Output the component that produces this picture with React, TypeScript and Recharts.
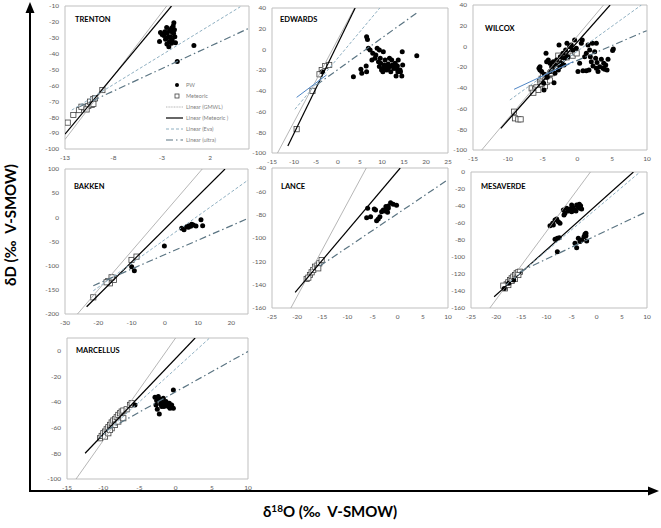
import React from 'react'
import { ScatterChart, Scatter, XAxis, YAxis, ReferenceArea, Legend } from 'recharts'

type Pt = { x: number; y: number }

// ---- TRENTON ----
const trentonPw: Pt[] = [
  { x: -3.14, y: -26.6 }, { x: -2.97, y: -28.0 }, { x: -2.69, y: -26.2 }, { x: -2.45, y: -27.2 },
  { x: -2.21, y: -25.5 }, { x: -2.0, y: -24.0 }, { x: -1.93, y: -26.4 }, { x: -1.76, y: -20.5 },
  { x: -1.83, y: -22.6 }, { x: -2.1, y: -29.3 }, { x: -2.35, y: -29.7 }, { x: -2.62, y: -31.0 },
  { x: -1.93, y: -31.4 }, { x: -1.66, y: -29.3 }, { x: -2.0, y: -33.5 }, { x: -2.28, y: -35.6 },
  { x: -2.48, y: -33.9 }, { x: -1.59, y: -33.1 }, { x: -2.21, y: -32.4 }, { x: -1.79, y: -27.2 },
  { x: -3.24, y: -32.4 }, { x: 0.31, y: -34.9 }, { x: -1.41, y: -45.0 }, { x: -2.5, y: -23.5 },
  { x: -2.8, y: -28.5 }, { x: -1.7, y: -25.0 },
]
const trentonMet: Pt[] = [
  { x: -12.72, y: -83.4 }, { x: -12.14, y: -78.6 }, { x: -11.56, y: -75.5 }, { x: -11.04, y: -73.8 },
  { x: -10.59, y: -72.9 }, { x: -10.41, y: -70.2 }, { x: -10.24, y: -72.3 }, { x: -10.07, y: -68.5 },
  { x: -9.9, y: -68.1 }, { x: -10.07, y: -71.6 }, { x: -9.14, y: -62.9 }, { x: -11.3, y: -73.4 },
  { x: -10.77, y: -75.1 },
]
const trentonGmwl: Pt[] = [{ x: -13, y: -94 }, { x: -2.5, y: -10 }]
const trentonMetLine: Pt[] = [{ x: -13, y: -90.6 }, { x: -2, y: -10 }]
const trentonEva: Pt[] = [{ x: -12.3, y: -75.5 }, { x: 5.1, y: -10.5 }]
const trentonUltra: Pt[] = [{ x: -11.5, y: -73.4 }, { x: 6, y: -24 }]

// ---- EDWARDS ----
const edwardsPw: Pt[] = [
  { x: 3.5, y: -26.3 }, { x: 5.2, y: -19.2 }, { x: 5.4, y: -23.1 }, { x: 6.4, y: -16 }, { x: 6.5, y: -21.5 },
  { x: 6.5, y: 12.3 }, { x: 6.7, y: 9.7 }, { x: 6.9, y: 1.1 }, { x: 7.3, y: -0.5 }, { x: 7.9, y: -3.8 },
  { x: 8.4, y: -8.6 }, { x: 8.6, y: -5.4 }, { x: 8.9, y: 1.1 }, { x: 9.4, y: -0.5 }, { x: 9.2, y: -11.8 },
  { x: 9.4, y: -16.6 }, { x: 9.7, y: -13.4 }, { x: 9.9, y: -19.9 }, { x: 10.2, y: -18.3 }, { x: 10.3, y: -2.2 },
  { x: 10.5, y: -15 }, { x: 10.7, y: -10.2 }, { x: 10.9, y: -16.6 }, { x: 11.1, y: -19.9 }, { x: 11.4, y: -14.1 },
  { x: 11.7, y: -8.6 }, { x: 11.8, y: -16.6 }, { x: 12, y: -21.5 }, { x: 12.2, y: -10.2 }, { x: 12.4, y: -15 },
  { x: 12.7, y: -18.3 }, { x: 13, y: -13.4 }, { x: 13.2, y: -25.7 }, { x: 13.3, y: -18.3 }, { x: 13.5, y: -16 },
  { x: 13.7, y: -10.2 }, { x: 13.9, y: -20.5 }, { x: 14.1, y: -19.9 }, { x: 14.2, y: -21.5 }, { x: 14.5, y: -25.7 },
  { x: 14.6, y: -2.2 }, { x: 14.7, y: -15 }, { x: 17.9, y: -6 }, { x: 10.2, y: -21.5 }, { x: 7.7, y: -10.2 },
  { x: 9.6, y: -8.6 }, { x: 11.4, y: -18.3 }, { x: 12.7, y: -16 }, { x: 13.6, y: -21.5 }, { x: -3.6, y: -21.5 },
]
const edwardsMet: Pt[] = [
  { x: -9.4, y: -77 }, { x: -5.8, y: -40 }, { x: -3.7, y: -20 }, { x: -2.9, y: -16 }, { x: -2, y: -15 },
  { x: -4.2, y: -24 },
]
const edwardsGmwl: Pt[] = [{ x: -13.75, y: -100 }, { x: 3.75, y: 40 }]
const edwardsMetLine: Pt[] = [{ x: -11.4, y: -93.2 }, { x: 3.9, y: 40 }]
const edwardsEva: Pt[] = [{ x: -9.8, y: -57.8 }, { x: 9.5, y: 40 }]
const edwardsUltra: Pt[] = [{ x: -4.9, y: -34.3 }, { x: 18.3, y: 36.5 }]
const edwardsBlue: Pt[] = [{ x: -9.4, y: -46.3 }, { x: -2.6, y: -24.7 }]

// ---- WILCOX ----
const wilcoxPw: Pt[] = [
  { x: -4.51, y: -6.7 }, { x: -5.52, y: -21.1 }, { x: -5.38, y: -22.7 }, { x: -4.8, y: -42 }, { x: -4.42, y: -14.7 },
  { x: -4.18, y: -13.1 }, { x: -3.94, y: -16.3 }, { x: -3.7, y: -19.5 }, { x: -3.46, y: -14.7 }, { x: -3.22, y: -17.9 },
  { x: -2.98, y: -13.1 }, { x: -2.74, y: -22.7 }, { x: -3.36, y: -35 }, { x: -2.64, y: 1.4 }, { x: -2.45, y: -9.9 },
  { x: -2.07, y: -6.7 }, { x: -1.83, y: -11.5 }, { x: -1.5, y: 3 }, { x: -1.12, y: -0.2 }, { x: -0.88, y: 1.4 },
  { x: -0.64, y: -3.5 }, { x: -0.4, y: 6.2 }, { x: -0.16, y: -1.8 }, { x: 0.08, y: -24.3 }, { x: 0.32, y: -16.3 },
  { x: 0.56, y: 3 }, { x: 0.8, y: -23.4 }, { x: 0.7, y: 6.2 }, { x: 1.04, y: -9.9 }, { x: 1.28, y: -23.4 },
  { x: 1.52, y: 1.4 }, { x: 1.66, y: -22.7 }, { x: 1.76, y: -3.5 }, { x: 1.86, y: -9.9 }, { x: 2.0, y: -14.7 },
  { x: 2.15, y: 3 }, { x: 2.24, y: -18.9 }, { x: 2.48, y: -5.1 }, { x: 2.62, y: -11.5 }, { x: 2.72, y: -21.1 },
  { x: 2.82, y: -15.6 }, { x: 2.96, y: -24.3 }, { x: 3.2, y: -19.5 }, { x: 3.44, y: -12.4 }, { x: 3.68, y: -21.1 },
  { x: 3.78, y: -16.3 }, { x: 3.92, y: -22 }, { x: 4.07, y: -17.9 }, { x: 4.26, y: -22.7 }, { x: 2.72, y: 3 },
  { x: 5.16, y: -2.5 }, { x: 5.06, y: -4 }, { x: 4.4, y: -12.4 }, { x: 1.28, y: -6.7 }, { x: -5.38, y: -19.5 },
  { x: -5.14, y: -24.3 }, { x: -4.75, y: -26.8 }, { x: -4.32, y: -29.7 }, { x: -3.94, y: -24.3 }, { x: -3.22, y: -25.9 },
  { x: -2.5, y: -19.5 }, { x: -2.26, y: -16.3 }, { x: -1.92, y: -17.9 }, { x: -1.36, y: -9.9 }, { x: -4.85, y: -35.6 },
  { x: -1.69, y: -3.5 },
]
const wilcoxMet: Pt[] = [
  { x: -9.11, y: -63 }, { x: -8.97, y: -69.4 }, { x: -8.49, y: -70.4 }, { x: -8.16, y: -70.4 }, { x: -6.57, y: -40.5 },
  { x: -6.09, y: -41.4 }, { x: -5.86, y: -39.5 }, { x: -5.62, y: -42 }, { x: -6.33, y: -44.7 }, { x: -5.38, y: -34.4 },
  { x: -5.14, y: -31.2 }, { x: -4.9, y: -29 }, { x: -4.66, y: -32.8 }, { x: -4.42, y: -28.1 }, { x: -4.18, y: -29.7 },
  { x: -3.94, y: -26.5 }, { x: -3.7, y: -25.9 }, { x: -3.46, y: -23.4 }, { x: -3.22, y: -21.7 }, { x: -2.98, y: -19.5 },
  { x: -2.74, y: -17 }, { x: -2.5, y: -13.8 }, { x: -2.26, y: -12.2 }, { x: -2.02, y: -9.9 }, { x: -1.78, y: -8.9 },
  { x: -1.55, y: -10.5 }, { x: -0.97, y: -7.4 }, { x: -0.69, y: -8.9 }, { x: -0.35, y: -5.7 }, { x: -0.11, y: -6.7 },
  { x: -2.74, y: -8.9 }, { x: -4.66, y: -38.4 }, { x: -4.42, y: -34.4 }, { x: -3.94, y: -32.8 }, { x: -5.14, y: -36 },
]
const wilcoxGmwl: Pt[] = [{ x: -13.75, y: -100 }, { x: 3.75, y: 40 }]
const wilcoxMetLine: Pt[] = [{ x: -11, y: -79.1 }, { x: 4.7, y: 40 }]
const wilcoxEva: Pt[] = [{ x: -9.7, y: -51.7 }, { x: 9.2, y: 40 }]
const wilcoxUltra: Pt[] = [{ x: -4, y: -25 }, { x: 9.95, y: 15.2 }]
const wilcoxBlue: Pt[] = [{ x: -9.1, y: -41.4 }, { x: -0.6, y: -14.7 }]

// ---- BAKKEN ----
const bakkenPw: Pt[] = [
  { x: -0.14, y: -59.3 }, { x: -9.96, y: -102 }, { x: -9.16, y: -110.4 }, { x: 5.07, y: -22.8 }, { x: 5.77, y: -25.5 },
  { x: 6.57, y: -19.3 }, { x: 7.27, y: -17.2 }, { x: 7.77, y: -18.6 }, { x: 8.07, y: -14.5 }, { x: 8.57, y: -15.9 },
  { x: 9.37, y: -17.9 }, { x: 10.87, y: -4.8 }, { x: 11.37, y: -17.2 }, { x: 7.07, y: -20.7 },
]
const bakkenMet: Pt[] = [
  { x: -21.5, y: -165.5 }, { x: -17, y: -131.7 }, { x: -16.5, y: -136.5 }, { x: -15.7, y: -126.2 },
  { x: -15.3, y: -129.6 }, { x: -16, y: -124.1 }, { x: -10, y: -88.2 }, { x: -8.5, y: -81.3 }, { x: -17.5, y: -134.4 },
]
const bakkenGmwl: Pt[] = [{ x: -26.25, y: -200 }, { x: 11.25, y: 100 }]
const bakkenMetLine: Pt[] = [{ x: -23.5, y: -184.9 }, { x: 18.1, y: 100 }]
const bakkenEva: Pt[] = [{ x: -21.5, y: -152 }, { x: 25, y: 77 }]
const bakkenUltra: Pt[] = [{ x: -21.5, y: -141.4 }, { x: 24.6, y: -3.5 }]

// ---- LANCE ----
const lancePw: Pt[] = [
  { x: -5.98, y: -74.6 }, { x: -6.18, y: -82.6 }, { x: -5.39, y: -81.7 }, { x: -4.66, y: -75.1 }, { x: -4.4, y: -76 },
  { x: -3.87, y: -83.7 }, { x: -3.54, y: -81.7 }, { x: -3.21, y: -77.4 }, { x: -2.88, y: -76 }, { x: -2.55, y: -76.9 },
  { x: -2.21, y: -75.1 }, { x: -2.02, y: -78 }, { x: -1.88, y: -72.6 }, { x: -1.42, y: -69.8 }, { x: -0.89, y: -71.1 },
  { x: -0.23, y: -72 }, { x: -4.2, y: -85.3 }, { x: -1.88, y: -74.6 }, { x: -2.35, y: -73.1 },
]
const lanceMet: Pt[] = [
  { x: -18.11, y: -135.1 }, { x: -17.45, y: -131.7 }, { x: -17.12, y: -129.4 }, { x: -16.79, y: -127.4 },
  { x: -16.45, y: -124.6 }, { x: -15.99, y: -123.7 }, { x: -15.6, y: -121.7 }, { x: -15.13, y: -118.9 },
  { x: -17.78, y: -134 }, { x: -15.8, y: -126 },
]
const lanceGmwl: Pt[] = [{ x: -21.25, y: -160 }, { x: -6.25, y: -40 }]
const lanceMetLine: Pt[] = [{ x: -20.4, y: -146.6 }, { x: 0.5, y: -40 }]
const lanceUltra: Pt[] = [{ x: -15.5, y: -124 }, { x: 10, y: -50 }]

// ---- MESAVERDE ----
const mesaverdePw: Pt[] = [
  { x: -9.29, y: -63.1 }, { x: -8.76, y: -60.4 }, { x: -8.29, y: -56.5 }, { x: -7.96, y: -55.3 }, { x: -7.63, y: -58.4 },
  { x: -7.3, y: -60.4 }, { x: -8.63, y: -62.4 }, { x: -8.29, y: -79.2 }, { x: -7.83, y: -78 }, { x: -7.43, y: -77.3 },
  { x: -7.83, y: -93.7 }, { x: -6.64, y: -44.7 }, { x: -6.31, y: -48.6 }, { x: -5.98, y: -42.7 }, { x: -5.65, y: -45.9 },
  { x: -5.31, y: -43.5 }, { x: -4.98, y: -46.7 }, { x: -4.65, y: -42 }, { x: -4.32, y: -44.7 }, { x: -3.99, y: -38.8 },
  { x: -3.66, y: -40.8 }, { x: -3.46, y: -38 }, { x: -3.33, y: -42.7 }, { x: -3.2, y: -39.6 }, { x: -3.0, y: -43.5 },
  { x: -4.12, y: -45.9 }, { x: -4.98, y: -38.8 }, { x: -6.51, y: -50.6 }, { x: -4.32, y: -83.9 }, { x: -3.99, y: -89 },
  { x: -3.66, y: -78 }, { x: -3.33, y: -81.9 }, { x: -3.0, y: -80 }, { x: -2.53, y: -76.1 }, { x: -2.34, y: -73.3 },
  { x: -2.14, y: -74.9 }, { x: -2.0, y: -81.2 }, { x: -2.14, y: -72.2 }, { x: -18.4, y: -137 }, { x: -17.5, y: -131 },
  { x: -16.5, y: -127 },
]
const mesaverdeMet: Pt[] = [
  { x: -18.24, y: -134.9 }, { x: -17.91, y: -132.2 }, { x: -17.58, y: -129.8 }, { x: -17.24, y: -127.1 },
  { x: -16.91, y: -125.1 }, { x: -16.58, y: -123.1 }, { x: -16.25, y: -121.2 }, { x: -15.92, y: -119.2 },
  { x: -15.59, y: -118 }, { x: -15.26, y: -117.3 }, { x: -18.24, y: -136.9 }, { x: -17.58, y: -133 },
  { x: -16.91, y: -128.2 }, { x: -16.25, y: -125.9 }, { x: -15.59, y: -121.2 }, { x: -18.57, y: -133.7 },
]
const mesaverdeGmwl: Pt[] = [{ x: -21.25, y: -160 }, { x: -1.25, y: 0 }]
const mesaverdeMetLine: Pt[] = [{ x: -20.4, y: -146.7 }, { x: 7.3, y: 0 }]
const mesaverdeEva: Pt[] = [{ x: -18, y: -133 }, { x: 8.6, y: 0 }]
const mesaverdeUltra: Pt[] = [{ x: -15.3, y: -117.3 }, { x: 9.9, y: -46.7 }]

// ---- MARCELLUS ----
const marcellusPw: Pt[] = [
  { x: -0.31, y: -30.5 }, { x: -2.85, y: -36.2 }, { x: -2.62, y: -38.8 }, { x: -2.39, y: -35.7 }, { x: -2.16, y: -37.8 },
  { x: -1.93, y: -39.6 }, { x: -1.7, y: -37 }, { x: -1.47, y: -40.9 }, { x: -1.24, y: -42.2 }, { x: -1.01, y: -43.5 },
  { x: -0.78, y: -44.8 }, { x: -0.54, y: -42.2 }, { x: -0.31, y: -44.8 }, { x: -2.53, y: -45.6 }, { x: -2.25, y: -49.2 },
  { x: -1.93, y: -43.5 }, { x: -1.61, y: -43.5 }, { x: -1.33, y: -39.6 }, { x: -2.07, y: -41.4 }, { x: -2.71, y: -42.2 },
  { x: -0.87, y: -40.9 }, { x: -5.61, y: -42.2 },
]
const marcellusMet: Pt[] = [
  { x: -10.44, y: -68.2 }, { x: -10.21, y: -66.4 }, { x: -9.98, y: -64.3 }, { x: -9.75, y: -63 }, { x: -9.52, y: -61.2 },
  { x: -9.29, y: -59.6 }, { x: -9.06, y: -57.8 }, { x: -8.83, y: -55.9 }, { x: -8.6, y: -54.4 }, { x: -8.37, y: -53.4 },
  { x: -8.14, y: -51.8 }, { x: -7.91, y: -50 }, { x: -7.68, y: -48.7 }, { x: -7.45, y: -47.4 }, { x: -7.22, y: -46.6 },
  { x: -6.76, y: -45.6 }, { x: -6.3, y: -42.2 }, { x: -6.07, y: -40.9 }, { x: -9.75, y: -66.9 }, { x: -9.29, y: -64.3 },
  { x: -8.83, y: -60.4 }, { x: -8.37, y: -57.8 }, { x: -7.91, y: -55.2 }, { x: -7.22, y: -52.6 }, { x: -9.06, y: -61.7 },
]
const marcellusGmwl: Pt[] = [{ x: -13.75, y: -100 }, { x: 0, y: 10 }]
const marcellusMetLine: Pt[] = [{ x: -12.5, y: -79.9 }, { x: 2.7, y: 10 }]
const marcellusEva: Pt[] = [{ x: -10.5, y: -68 }, { x: 4.7, y: 10 }]
const marcellusUltra: Pt[] = [{ x: -9.5, y: -62 }, { x: 10, y: -0.5 }]

// axis ticks
const ticksTrentonX = [-13, -8, -3, 2]
const ticksTrentonY = [-100, -90, -80, -70, -60, -50, -40, -30, -20, -10]
const ticks15to25 = [-15, -10, -5, 0, 5, 10, 15, 20, 25]
const ticks15to10 = [-15, -10, -5, 0, 5, 10]
const ticks25to10 = [-25, -20, -15, -10, -5, 0, 5, 10]
const ticksBakkenX = [-30, -20, -10, 0, 10, 20]
const ticksBakkenY = [-200, -150, -100, -50, 0, 50, 100]
const ticks100to40 = [-100, -80, -60, -40, -20, 0, 20, 40]
const ticksLanceY = [-160, -140, -120, -100, -80, -60, -40]
const ticksMesaY = [-160, -140, -120, -100, -80, -60, -40, -20, 0]
const ticksMarcY = [-100, -80, -60, -40, -20, 0]

const GMWL = { stroke: '#a3a3a3', strokeWidth: 0.8 }
const METL = { stroke: '#000000', strokeWidth: 1.2 }
const EVA = { stroke: '#8fb0c2', strokeWidth: 1, strokeDasharray: '3 2' }
const ULTRA = { stroke: '#5a7482', strokeWidth: 1.2, strokeDasharray: '7 3 1.5 3' }
const BLUE = { stroke: '#4f86c6', strokeWidth: 1 }

const FONT = 'Lato, "Liberation Sans", sans-serif'
const tickStyle = { fontSize: 6.5, fill: '#595959', fontFamily: FONT }

const noShape = () => <g />
const dot = (p: any) => <circle cx={p.cx} cy={p.cy} r={2.5} fill="#000" />
const square = (p: any) => (
  <rect x={p.cx - 2.6} y={p.cy - 2.6} width={5.2} height={5.2} fill="#fff" stroke="#404040" strokeWidth={0.8} />
)

function TrentonLegend() {
  const rows: { label: string; icon: React.ReactNode }[] = [
    { label: 'PW', icon: <circle cx={11} cy={4} r={2} fill="#000" /> },
    { label: 'Meteoric', icon: <rect x={9} y={2} width={4} height={4} fill="#fff" stroke="#404040" strokeWidth={0.8} /> },
    { label: 'Linear (GMWL)', icon: <line x1={0} x2={17} y1={4} y2={4} stroke="#a3a3a3" strokeWidth={0.8} strokeDasharray="1 0.6" /> },
    { label: 'Linear (Meteoric )', icon: <line x1={0} x2={17} y1={4} y2={4} stroke="#000" strokeWidth={1.2} /> },
    { label: 'Linear (Eva)', icon: <line x1={0} x2={17} y1={4} y2={4} {...EVA} /> },
    { label: 'Linear (ultra)', icon: <line x1={0} x2={17} y1={4} y2={4} stroke="#5a7482" strokeWidth={1.2} strokeDasharray="7 3 1.5 3" /> },
  ]
  return (
    <div style={{ fontFamily: FONT, fontSize: 5.5, color: '#7f7f7f' }}>
      {rows.map((r) => (
        <div key={r.label} style={{ display: 'flex', alignItems: 'center', height: 11 }}>
          <svg width={20} height={8}>{r.icon}</svg>
          <span>{r.label}</span>
        </div>
      ))}
    </div>
  )
}

type PanelSpec = {
  title: string
  box: { x: number; y: number; w: number; h: number }
  titlePos: [number, number]
  xDomain: [number, number]
  yDomain: [number, number]
  xTicks: number[]
  yTicks: number[]
  pw: Pt[]
  met: Pt[]
  gmwl: Pt[]
  metLine: Pt[]
  eva?: Pt[]
  ultra: Pt[]
  blue?: Pt[]
  legend?: boolean
}

const YW = 30
const XH = 16
const MT = 5
const MR = 9

function Panel({ p }: { p: PanelSpec }) {
  const width = p.box.w + YW + MR
  const height = p.box.h + MT + XH
  return (
    <div style={{ position: 'absolute', left: p.box.x - YW, top: p.box.y - MT, width, height }}>
      <ScatterChart width={width} height={height} margin={{ top: MT, right: MR, left: 0, bottom: 0 }}>
        <XAxis
          type="number"
          dataKey="x"
          domain={p.xDomain}
          ticks={p.xTicks}
          allowDataOverflow
          axisLine={false}
          tickLine={false}
          tickSize={3}
          tickMargin={3}
          height={XH}
          tick={tickStyle}
        />
        <YAxis
          type="number"
          dataKey="y"
          domain={p.yDomain}
          ticks={p.yTicks}
          allowDataOverflow
          axisLine={false}
          tickLine={false}
          tickSize={3}
          tickMargin={3}
          width={YW}
          tick={tickStyle}
        />
        <ReferenceArea
          x1={p.xDomain[0]}
          x2={p.xDomain[1]}
          y1={p.yDomain[0]}
          y2={p.yDomain[1]}
          fill="#ffffff"
          fillOpacity={0}
          stroke="#bfbfbf"
          strokeWidth={1}
        />
        <Scatter name="Meteoric" data={p.met} shape={square} isAnimationActive={false} />
        <Scatter name="PW" data={p.pw} shape={dot} isAnimationActive={false} />
        <Scatter data={p.gmwl} line={GMWL} shape={noShape} isAnimationActive={false} legendType="none" />
        <Scatter data={p.metLine} line={METL} shape={noShape} isAnimationActive={false} legendType="none" />
        {p.eva && <Scatter data={p.eva} line={EVA} shape={noShape} isAnimationActive={false} legendType="none" />}
        <Scatter data={p.ultra} line={ULTRA} shape={noShape} isAnimationActive={false} legendType="none" />
        {p.blue && <Scatter data={p.blue} line={BLUE} shape={noShape} isAnimationActive={false} legendType="none" />}
        {p.legend && (
          <Legend
            layout="vertical"
            align="center"
            verticalAlign="middle"
            content={() => <TrentonLegend />}
            wrapperStyle={{ position: 'absolute', left: 131, top: 78, width: 80 }}
          />
        )}
      </ScatterChart>
      <div
        style={{
          position: 'absolute',
          left: YW + p.titlePos[0],
          top: MT + p.titlePos[1] - 5,
          lineHeight: '10px',
          fontFamily: FONT,
          fontWeight: 700,
          fontSize: 7.5,
          color: '#000',
        }}
      >
        {p.title}
      </div>
    </div>
  )
}

const panels: PanelSpec[] = [
  {
    title: 'TRENTON', box: { x: 65, y: 6, w: 184, h: 143 }, titlePos: [10, 14],
    xDomain: [-13, 6], yDomain: [-100, -10], xTicks: ticksTrentonX, yTicks: ticksTrentonY,
    pw: trentonPw, met: trentonMet, gmwl: trentonGmwl, metLine: trentonMetLine, eva: trentonEva, ultra: trentonUltra,
    legend: true,
  },
  {
    title: 'EDWARDS', box: { x: 272, y: 8, w: 176, h: 145 }, titlePos: [8, 12],
    xDomain: [-15, 25], yDomain: [-100, 40], xTicks: ticks15to25, yTicks: ticks100to40,
    pw: edwardsPw, met: edwardsMet, gmwl: edwardsGmwl, metLine: edwardsMetLine, eva: edwardsEva, ultra: edwardsUltra,
    blue: edwardsBlue,
  },
  {
    title: 'WILCOX', box: { x: 473, y: 5, w: 174, h: 145 }, titlePos: [12, 24],
    xDomain: [-15, 10], yDomain: [-100, 40], xTicks: ticks15to10, yTicks: ticks100to40,
    pw: wilcoxPw, met: wilcoxMet, gmwl: wilcoxGmwl, metLine: wilcoxMetLine, eva: wilcoxEva, ultra: wilcoxUltra,
    blue: wilcoxBlue,
  },
  {
    title: 'BAKKEN', box: { x: 65, y: 169, w: 183, h: 145 }, titlePos: [9, 18],
    xDomain: [-30, 25], yDomain: [-200, 100], xTicks: ticksBakkenX, yTicks: ticksBakkenY,
    pw: bakkenPw, met: bakkenMet, gmwl: bakkenGmwl, metLine: bakkenMetLine, eva: bakkenEva, ultra: bakkenUltra,
  },
  {
    title: 'LANCE', box: { x: 272, y: 168, w: 176, h: 140 }, titlePos: [9, 19],
    xDomain: [-25, 10], yDomain: [-160, -40], xTicks: ticks25to10, yTicks: ticksLanceY,
    pw: lancePw, met: lanceMet, gmwl: lanceGmwl, metLine: lanceMetLine, ultra: lanceUltra,
  },
  {
    title: 'MESAVERDE', box: { x: 471, y: 172, w: 176, h: 136 }, titlePos: [10, 15],
    xDomain: [-25, 10], yDomain: [-160, 0], xTicks: ticks25to10, yTicks: ticksMesaY,
    pw: mesaverdePw, met: mesaverdeMet, gmwl: mesaverdeGmwl, metLine: mesaverdeMetLine, eva: mesaverdeEva,
    ultra: mesaverdeUltra,
  },
  {
    title: 'MARCELLUS', box: { x: 67, y: 338, w: 181, h: 141 }, titlePos: [9, 13],
    xDomain: [-15, 10], yDomain: [-100, 10], xTicks: ticks15to10, yTicks: ticksMarcY,
    pw: marcellusPw, met: marcellusMet, gmwl: marcellusGmwl, metLine: marcellusMetLine, eva: marcellusEva,
    ultra: marcellusUltra,
  },
]

export default function App() {
  return (
    <div style={{ position: 'absolute', left: 0, top: 0, width: 661, height: 528, background: '#fff', overflow: 'hidden' }}>
      <svg width={661} height={528} style={{ position: 'absolute', left: 0, top: 0 }}>
        <polyline points="30,12 30,491 649,491" fill="none" stroke="#000" strokeWidth={2} />
        <polygon points="30,2 25.5,13 34.5,13" fill="#000" />
        <polygon points="659,491 648,486.5 648,495.5" fill="#000" />
        <text
          transform="translate(16,225) rotate(-90)"
          textAnchor="middle"
          fontFamily={FONT}
          fontWeight={700}
          fontSize={15}
          style={{ whiteSpace: 'pre' }}
        >
          {'δD (‰  V-SMOW)'}
        </text>
        <text x={330} y={517} textAnchor="middle" fontFamily={FONT} fontWeight={700} fontSize={15} style={{ whiteSpace: 'pre' }}>
          δ<tspan fontSize={10} dy={-5}>18</tspan>
          <tspan dy={5}>{'O (‰  V-SMOW)'}</tspan>
        </text>
      </svg>
      {panels.map((p) => (
        <Panel key={p.title} p={p} />
      ))}
    </div>
  )
}
